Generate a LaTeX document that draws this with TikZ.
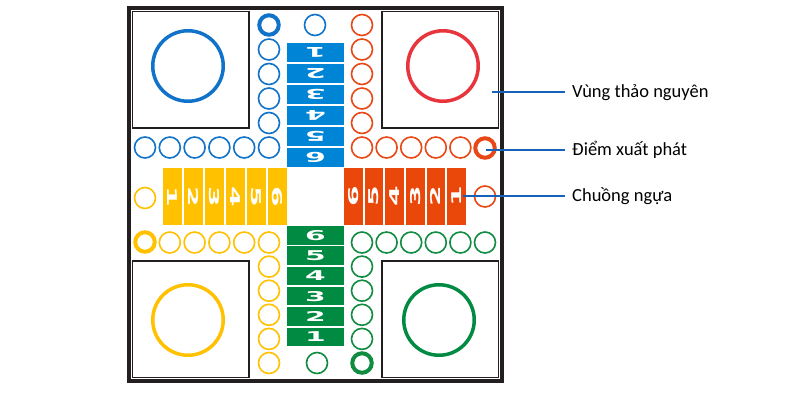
\documentclass[tikz,border=0pt]{standalone}
\usepackage{fontspec}
\setmainfont{Carlito}
\newfontfamily\numfont{DejaVu Sans}
\definecolor{bluetrack}{RGB}{0,132,214}
\definecolor{bluering}{RGB}{16,114,200}
\definecolor{redtrack}{RGB}{234,72,10}
\definecolor{redring}{RGB}{232,72,22}
\definecolor{redbig}{RGB}{232,52,60}
\definecolor{yel}{RGB}{255,193,0}
\definecolor{grn}{RGB}{0,138,66}
\definecolor{grnring}{RGB}{16,140,64}
\definecolor{calloutcol}{RGB}{22,98,186}
\definecolor{framecol}{RGB}{35,31,32}
\newcommand{\dig}[2]{\rotatebox{#1}{\scalebox{2.2}[1]{\numfont\bfseries\fontsize{13.5}{13.5}\selectfont #2}}}
\begin{document}
\begin{tikzpicture}[x=1pt,y=-1pt,
  boardbox/.style={draw=framecol, line width=3.5pt, inner sep=0, minimum width=373pt, minimum height=373pt},
  homebox/.style={draw=framecol, line width=1.5pt, inner sep=0, minimum width=116.5pt, minimum height=116.5pt},
  bigring/.style={circle, draw=#1, line width=3.5pt, inner sep=0, minimum size=70.5pt},
  ring/.style={circle, draw=#1, line width=1.6pt, inner sep=0, minimum size=21pt},
  startring/.style={circle, draw=#1, line width=4pt, inner sep=0, minimum size=19.5pt},
  cellbox/.style={fill=#1, inner sep=0, text=white},
  calloutline/.style={draw=calloutcol, line width=2pt},
  labeltext/.style={anchor=west, inner sep=0, text height=14pt, text depth=4pt, font=\fontsize{18.5}{20}\selectfont}
]
\useasboundingbox (0,0) rectangle (800,400);
\fill[white] (0,0) rectangle (800,400);

% board and home squares
\node[boardbox] (board) at (315.5,194.5) {};
\node[homebox] (hTL) at (190.75,69.75) {};
\node[homebox] (hTR) at (440.25,69.75) {};
\node[homebox] (hBL) at (190.75,319.25) {};
\node[homebox] (hBR) at (440.25,319.25) {};

% big circles
\node[bigring=bluering] (cTL) at (188,66) {};
\node[bigring=redbig] (cTR) at (443,66) {};
\node[bigring=yel] (cBL) at (188,320) {};
\node[bigring=grn] (cBR) at (439,320) {};

% tracks
\foreach \i in {1,...,6} {
  \node[cellbox=bluetrack, minimum width=57pt, minimum height=19.1pt] (B\i) at (315.5,{52.55+20.98*(\i-1)}) {\dig{180}{\i}};
  \node[cellbox=yel, minimum width=19.1pt, minimum height=57pt] (Y\i) at ({172.55+20.98*(\i-1)},196.5) {\dig{-90}{\i}};
  \node[cellbox=redtrack, minimum width=18.8pt, minimum height=57pt] (R\i) at ({456.6-20.64*(\i-1)},196.5) {\dig{90}{\i}};
  \node[cellbox=grn, minimum width=57pt, minimum height=18.5pt] (G\i) at (315.5,{336.75-20.3*(\i-1)}) {\dig{0}{\i}};
}

% blue circles
\node[startring=bluering] (bs) at (269,25) {};
\foreach \k in {1,...,5} \node[ring=bluering] (bc\k) at (269,{25+24.5*\k}) {};
\foreach \k in {1,...,5} \node[ring=bluering] (br\k) at ({269-24.8*\k},147.5) {};
\node[ring=bluering] (bx) at (315,25) {};

% red circles
\foreach \k in {0,...,5} \node[ring=redring] (rc\k) at (362,{25+24.5*\k}) {};
\foreach \k in {1,...,4} \node[ring=redring] (rr\k) at ({362+24.6*\k},147.5) {};
\node[startring=redring] (rs) at (485,148) {};
\node[ring=redring] (rx) at (485,196.5) {};

% yellow circles
\foreach \k in {0,...,4} \node[ring=yel] (yr\k) at ({269-24.8*\k},242.5) {};
\node[startring=yel] (ys) at (145,242) {};
\foreach \k in {1,...,5} \node[ring=yel] (yc\k) at (269,{242.5+24.1*\k}) {};
\node[ring=yel] (yx) at (145,198) {};

% green circles
\foreach \k in {0,...,5} \node[ring=grnring] (gr\k) at ({362+24.6*\k},242.5) {};
\foreach \k in {1,...,4} \node[ring=grnring] (gc\k) at (362,{242.5+24.1*\k}) {};
\node[startring=grnring] (gs) at (362,363) {};
\node[ring=grnring] (gx) at (317,363) {};

% callouts
\coordinate (a1) at (492,92);
\coordinate (a2) at (486,150);
\coordinate (a3) at (463,196);
\node[labeltext] (l1) at (572,92) {Vùng thảo nguyên};
\node[labeltext] (l2) at (572,150) {Điểm xuất phát};
\node[labeltext] (l3) at (572,196) {Chuồng ngựa};
\draw[calloutline, shorten >=7pt] (a1) -- (l1.west);
\draw[calloutline, shorten >=7pt] (a2) -- (l2.west);
\draw[calloutline, shorten >=7pt] (a3) -- (l3.west);
\end{tikzpicture}
\end{document}
